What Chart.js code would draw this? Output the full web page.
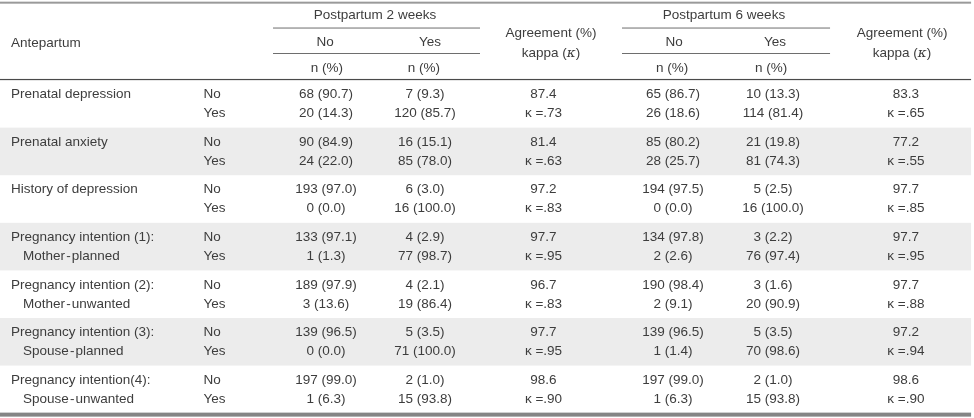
<!DOCTYPE html>
<html>
<head>
<meta charset="utf-8">
<script src="https://cdn.jsdelivr.net/npm/chart.js@4"></script>
<style>
html,body{margin:0;padding:0;background:#fff;}
#wrap{width:974px;height:418px;position:relative;}
</style>
</head>
<body>
<div id="wrap"><canvas id="c"></canvas></div>
<script>
// ---------------- DATA ----------------
const groupLabels = ["Prenatal depression","Prenatal anxiety","History of depression","Pregnancy intention (1):","Pregnancy intention (2):","Pregnancy intention (3):","Pregnancy intention(4):"];
const subLabels = ["","","","Mother\u200A-\u200Aplanned","Mother\u200A-\u200Aunwanted","Spouse\u200A-\u200Aplanned","Spouse\u200A-\u200Aunwanted"];
const responses = ["No","Yes"];

const pp2NoN    = [68,20, 90,24, 193,0, 133,1, 189,3, 139,0, 197,1];
const pp2NoPct  = [90.7,14.3, 84.9,22.0, 97.0,0.0, 97.1,1.3, 97.9,13.6, 96.5,0.0, 99.0,6.3];
const pp2YesN   = [7,120, 16,85, 6,16, 4,77, 4,19, 5,71, 2,15];
const pp2YesPct = [9.3,85.7, 15.1,78.0, 3.0,100.0, 2.9,98.7, 2.1,86.4, 3.5,100.0, 1.0,93.8];
const pp2Agree  = [87.4,81.4,97.2,97.7,96.7,97.7,98.6];
const pp2Kappa  = [.73,.63,.83,.95,.83,.95,.90];

const pp6NoN    = [65,26, 85,28, 194,0, 134,2, 190,2, 139,1, 197,1];
const pp6NoPct  = [86.7,18.6, 80.2,25.7, 97.5,0.0, 97.8,2.6, 98.4,9.1, 96.5,1.4, 99.0,6.3];
const pp6YesN   = [10,114, 21,81, 5,16, 3,76, 3,20, 5,70, 2,15];
const pp6YesPct = [13.3,81.4, 19.8,74.3, 2.5,100.0, 2.2,97.4, 1.6,90.9, 3.5,98.6, 1.0,93.8];
const pp6Agree  = [83.3,77.2,97.7,97.7,97.7,97.2,98.6];
const pp6Kappa  = [.65,.55,.85,.95,.88,.94,.90];

const headerTitles = ["Antepartum","Postpartum 2 weeks","Postpartum 6 weeks","Agreement (%)","kappa (\u03BA)","n (%)"];

// ---------------- LAYOUT (x in % of width, y in group units) ----------------
const L = {
  xLabel: 1.13, xSub: 2.36, xResp: 20.9,
  pp2No: 33.47, pp2Yes: 43.63, pp2Agr: 55.8,
  pp6No: 69.1, pp6Yes: 79.36, pp6Agr: 93.0,
  pp2NoH: 33.37, pp2YesH: 44.15, pp2AgrH: 56.57, pp2Span: 38.5,
  pp6NoH: 69.2, pp6YesH: 79.57, pp6AgrH: 92.61, pp6Span: 74.33,
  pp2nH: [33.57, 43.53], pp6nH: [69.0, 79.16],
  rule2: [28.03, 49.28], rule6: [63.86, 85.22],
  tableRight: 99.7,
  yMin: -1.681, yMax: 7.101,
  line1: 0.305, line2: 0.704,
  yTop: -1.625, yRuleA: -1.092, yRuleB: -0.557, yHeadBot: -0.01, yBottom: 7.03,
  yTitle: -1.366, yNoYes: -0.798, yAnte: -0.777, yAgr: -0.987, yKap: -0.567, yN: -0.252
};
const STYLE = {
  font: '13.5px "Liberation Sans", Arial, sans-serif',
  italicFont: 'italic 13.5px "DejaVu Serif", serif',
  color: '#3d3d3d', band: '#ececec'
};

// ---------------- helpers ----------------
const fmtPct = v => v.toFixed(1);
const fmtK = v => '\u03BA =' + v.toFixed(2).replace(/^0/, '');
const rowY = i => Math.floor(i / 2) + (i % 2 ? L.line2 : L.line1);

function cellDataset(x, texts, ys, align) {
  return {
    data: texts.map((t, i) => ({x: Array.isArray(x) ? x[i] : x, y: ys[i]})),
    cellText: texts, align: align || 'center',
    pointRadius: 0, pointHoverRadius: 0, showLine: false
  };
}
const rowYs = Array.from({length: 14}, (_, i) => rowY(i));
const groupYs = groupLabels.map((_, g) => g + L.line1);
const subYs = groupLabels.map((_, g) => g + L.line2);
const agreeText = (a, k) => { const out = []; a.forEach((v, g) => { out.push(v.toFixed(1)); out.push(fmtK(k[g])); }); return out; };

const datasets = [
  cellDataset(L.xLabel, groupLabels, groupYs, 'left'),
  cellDataset(L.xSub, subLabels, subYs, 'left'),
  cellDataset(L.xResp, rowYs.map((_, i) => responses[i % 2]), rowYs, 'left'),
  cellDataset(L.pp2No, pp2NoN.map((n, i) => n + ' (' + fmtPct(pp2NoPct[i]) + ')'), rowYs),
  cellDataset(L.pp2Yes, pp2YesN.map((n, i) => n + ' (' + fmtPct(pp2YesPct[i]) + ')'), rowYs),
  cellDataset(L.pp2Agr, agreeText(pp2Agree, pp2Kappa), rowYs),
  cellDataset(L.pp6No, pp6NoN.map((n, i) => n + ' (' + fmtPct(pp6NoPct[i]) + ')'), rowYs),
  cellDataset(L.pp6Yes, pp6YesN.map((n, i) => n + ' (' + fmtPct(pp6YesPct[i]) + ')'), rowYs),
  cellDataset(L.pp6Agr, agreeText(pp6Agree, pp6Kappa), rowYs),
  // header
  cellDataset([L.xLabel], [headerTitles[0]], [L.yAnte], 'left'),
  cellDataset([L.pp2Span, L.pp6Span], [headerTitles[1], headerTitles[2]], [L.yTitle, L.yTitle]),
  cellDataset([L.pp2NoH, L.pp2YesH, L.pp6NoH, L.pp6YesH], [responses[0], responses[1], responses[0], responses[1]], [L.yNoYes, L.yNoYes, L.yNoYes, L.yNoYes]),
  cellDataset([L.pp2AgrH, L.pp6AgrH, L.pp2AgrH, L.pp6AgrH], [headerTitles[3], headerTitles[3], headerTitles[4], headerTitles[4]], [L.yAgr, L.yAgr, L.yKap, L.yKap]),
  cellDataset([L.pp2nH[0], L.pp2nH[1], L.pp6nH[0], L.pp6nH[1]], [headerTitles[5], headerTitles[5], headerTitles[5], headerTitles[5]], [L.yN, L.yN, L.yN, L.yN])
];

// draw text with italic kappa in header "kappa (κ)"
function drawRich(ctx, text, x, y, align) {
  if (text.indexOf('(\u03BA)') < 0) {
    ctx.textAlign = align; ctx.fillText(text, x, y); return;
  }
  const parts = [['kappa (', STYLE.font], ['\u03BA', STYLE.italicFont], [')', STYLE.font]];
  let total = 0;
  parts.forEach(p => { ctx.font = p[1]; total += ctx.measureText(p[0]).width; });
  let cx = align === 'center' ? x - total / 2 : x;
  ctx.textAlign = 'left';
  parts.forEach(p => { ctx.font = p[1]; ctx.fillText(p[0], cx, y); cx += ctx.measureText(p[0]).width; });
  ctx.font = STYLE.font;
}

const tablePlugin = {
  id: 'tableDecor',
  beforeDatasetsDraw(chart) {
    const {ctx, scales: {x, y}} = chart;
    ctx.save();
    const x0 = x.getPixelForValue(0), x1 = x.getPixelForValue(L.tableRight);
    ctx.fillStyle = STYLE.band;
    groupLabels.forEach((_, g) => {
      if (g % 2 === 1) {
        const t = y.getPixelForValue(g), b = y.getPixelForValue(g + 1);
        ctx.fillRect(x0, t, x1 - x0, b - t);
      }
    });
    const hline = (v, a, b, w, c) => {
      ctx.fillStyle = c;
      const py = y.getPixelForValue(v);
      ctx.fillRect(x.getPixelForValue(a), py - w / 2, x.getPixelForValue(b) - x.getPixelForValue(a), w);
    };
    hline(L.yTop, 0, L.tableRight, 2, '#9a9a9a');
    hline(L.yRuleA, L.rule2[0], L.rule2[1], 1, '#6e6e6e');
    hline(L.yRuleA, L.rule6[0], L.rule6[1], 1, '#6e6e6e');
    hline(L.yRuleB, L.rule2[0], L.rule2[1], 1, '#6e6e6e');
    hline(L.yRuleB, L.rule6[0], L.rule6[1], 1, '#6e6e6e');
    hline(L.yHeadBot, 0, L.tableRight, 1.2, '#4a4a4a');
    hline(L.yBottom, 0, L.tableRight, 4, '#858585');
    ctx.restore();
  },
  afterDatasetsDraw(chart) {
    const ctx = chart.ctx;
    ctx.save();
    ctx.font = STYLE.font;
    ctx.fillStyle = STYLE.color;
    ctx.textBaseline = 'middle';
    chart.data.datasets.forEach((ds, di) => {
      const meta = chart.getDatasetMeta(di);
      meta.data.forEach((el, i) => {
        const t = ds.cellText[i];
        if (!t) return;
        drawRich(ctx, t, el.x, el.y, ds.align);
      });
    });
    ctx.restore();
  }
};

new Chart(document.getElementById('c'), {
  type: 'scatter',
  data: {datasets},
  options: {
    responsive: true, maintainAspectRatio: false, animation: false, events: [],
    layout: {padding: 0},
    plugins: {legend: {display: false}, tooltip: {enabled: false}},
    scales: {
      x: {type: 'linear', min: 0, max: 100, display: false},
      y: {type: 'linear', min: L.yMin, max: L.yMax, reverse: true, display: false}
    }
  },
  plugins: [tablePlugin]
});
</script>
</body>
</html>
